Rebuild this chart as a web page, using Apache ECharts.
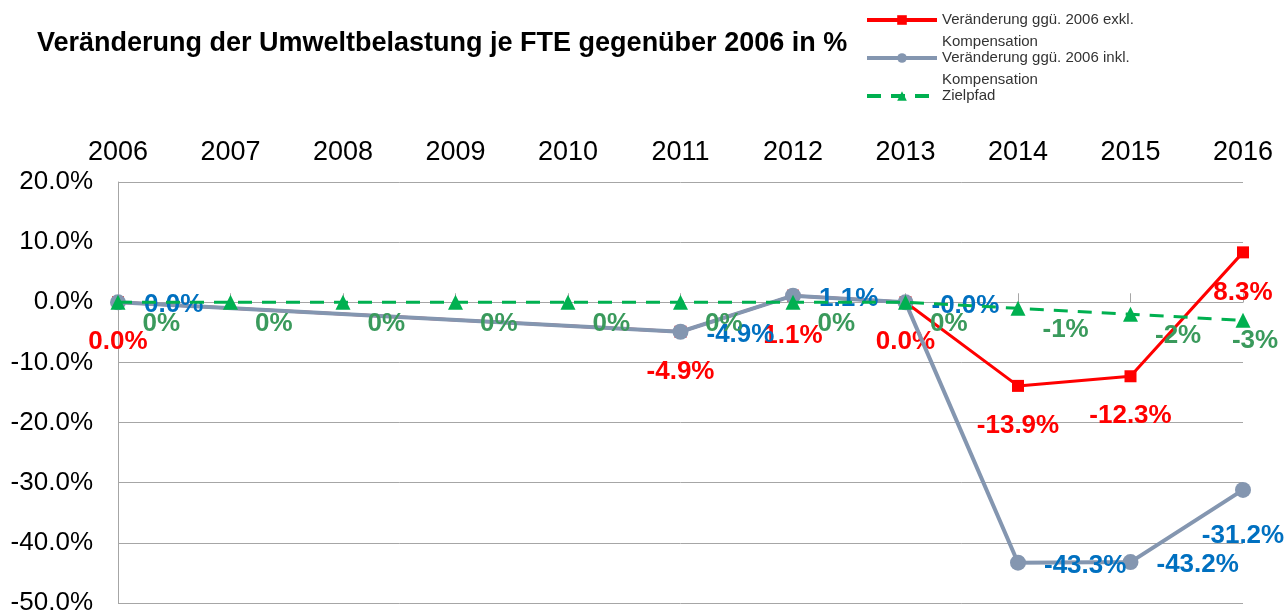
<!DOCTYPE html>
<html>
<head>
<meta charset="utf-8">
<script src="https://cdn.jsdelivr.net/npm/echarts@6/dist/echarts.min.js"></script>
<style>
  html, body { margin: 0; padding: 0; background: #fff; }
  #chart { width: 1284px; height: 616px; }
</style>
</head>
<body>
<div id="chart"></div>
<script>
var years = ['2006', '2007', '2008', '2009', '2010', '2011', '2012', '2013', '2014', '2015', '2016'];
var exklValues = [0.0, null, null, null, null, -4.9, 1.1, 0.0, -13.9, -12.3, 8.3];
var inklValues = [0.0, null, null, null, null, -4.9, 1.1, -0.01, -43.3, -43.2, -31.2];
var zielValues = [0, 0, 0, 0, 0, 0, 0, 0, -1, -2, -3];
var seriesNames = [
  'Veränderung ggü. 2006 exkl. Kompensation',
  'Veränderung ggü. 2006 inkl. Kompensation',
  'Zielpfad'
];

var font = 'Liberation Sans, Arial, sans-serif';
var chart = echarts.init(document.getElementById('chart'));

function pct1(p) { return p.value.toFixed(1) + '%'; }

// one legend per entry so the wrapped names sit like in the original
function legendFor(name, top) {
  return {
    data: [name],
    left: 865,
    top: top,
    padding: 0,
    itemWidth: 70,
    itemHeight: 12,
    selectedMode: false,
    lineStyle: { width: 4 },
    formatter: function(n) {
      // blank first line keeps the icon level with the first text line
      return n.indexOf(' Kompensation') > 0 ? ' \n' + n.replace(' Kompensation', '\nKompensation') : n;
    },
    textStyle: { fontFamily: font, fontSize: 15, color: '#333', lineHeight: 22 }
  };
}

var last = years.length - 1;

var option = {
  animation: false,
  backgroundColor: '#fff',
  title: {
    text: 'Veränderung der Umweltbelastung je FTE gegenüber 2006 in %',
    left: 37,
    top: 30,
    padding: 0,
    textStyle: { fontFamily: font, fontSize: 27, fontWeight: 'bold', color: '#000' }
  },
  legend: [
    legendFor(seriesNames[0], -13),
    legendFor(seriesNames[1], 25),
    legendFor(seriesNames[2], 85)
  ],
  grid: { left: 118, right: 41, top: 182, bottom: 9, containLabel: false },
  xAxis: [{
    type: 'category',
    data: years,
    position: 'top',
    boundaryGap: false,
    axisLine: { show: false, onZero: false },
    axisTick: { show: false },
    axisLabel: { fontFamily: font, fontSize: 27, color: '#000', margin: 16 }
  }, {
    type: 'category',
    data: years,
    position: 'bottom',
    boundaryGap: false,
    axisLine: { show: true, onZero: true, lineStyle: { color: '#a6a6a6', width: 1 } },
    axisTick: { show: true, inside: true, length: 9, lineStyle: { color: '#a6a6a6' } },
    axisLabel: { show: false }
  }],
  yAxis: {
    type: 'value',
    min: -50,
    max: 20,
    interval: 10,
    axisLine: { show: true, lineStyle: { color: '#a6a6a6', width: 1 } },
    axisTick: { show: false },
    splitLine: { lineStyle: { color: '#a6a6a6', width: 1 } },
    axisLabel: {
      fontFamily: font, fontSize: 26, color: '#000', margin: 25,
      formatter: function(v) { return v.toFixed(1) + '%'; }
    }
  },
  series: [{
    name: seriesNames[0],
    type: 'line',
    data: exklValues,
    connectNulls: true,
    symbol: 'rect',
    symbolSize: 12,
    z: 2,
    lineStyle: { color: '#ff0000', width: 3 },
    itemStyle: { color: '#ff0000' },
    label: {
      show: true, position: 'bottom', distance: 21, formatter: pct1,
      fontFamily: font, fontSize: 26, fontWeight: 'bold', color: '#ff0000'
    }
  }, {
    name: seriesNames[1],
    type: 'line',
    data: inklValues.map(function(v, i) {
      return i === last ? { value: v, label: { position: 'bottom', distance: 22 } } : v;
    }),
    connectNulls: true,
    symbol: 'circle',
    symbolSize: 16,
    z: 3,
    lineStyle: { color: '#8496b0', width: 4 },
    itemStyle: { color: '#8496b0' },
    label: {
      show: true, position: 'right', distance: 18, offset: [0, 3], formatter: pct1,
      fontFamily: font, fontSize: 26, fontWeight: 'bold', color: '#0070c0'
    }
  }, {
    name: seriesNames[2],
    type: 'line',
    data: zielValues.map(function(v, i) {
      return i === last ? { value: v, label: { position: 'bottom', distance: 0, offset: [12, 0] } } : v;
    }),
    symbol: 'triangle',
    symbolSize: 15,
    z: 4,
    lineStyle: { color: '#00b050', width: 3, type: [14, 10] },
    itemStyle: { color: '#00b050' },
    label: {
      show: true, position: 'right', distance: 17, offset: [0, 22],
      formatter: function(p) { return p.value + '%'; },
      fontFamily: font, fontSize: 26, fontWeight: 'bold', color: '#3a9a5c'
    }
  }]
};

chart.setOption(option);
</script>
</body>
</html>
